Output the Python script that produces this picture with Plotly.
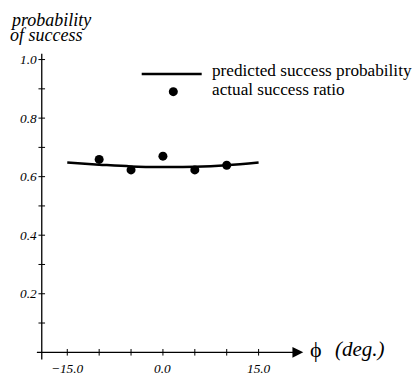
import plotly.graph_objects as go

# ---- data ----
pred_x = [-15, -10, -5, 0, 5, 10, 15]
pred_y = [0.648, 0.641, 0.635, 0.633, 0.634, 0.639, 0.648]
act_x = [-10, -5, 0, 5, 10]
act_y = [0.659, 0.623, 0.670, 0.623, 0.639]

x_major = [-15, 0, 15]
x_major_text = ["\u221215.0", "0.0", "15.0"]
x_minor = [-15, -10, -5, 0, 5, 10, 15]
y_major = [0.2, 0.4, 0.6, 0.8, 1.0]
y_major_text = ["0.2", "0.4", "0.6", "0.8", "1.0"]
y_minor = [0.1, 0.2, 0.3, 0.4, 0.5, 0.6, 0.7, 0.8, 0.9, 1.0]

legend_labels = ["predicted success probability", "actual success ratio"]
y_title = ["probability", "of success"]

SERIF = "Liberation Serif"
Y_AXIS_X = -19

fig = go.Figure()
fig.add_trace(go.Scatter(x=pred_x, y=pred_y, mode="lines",
                         line=dict(color="black", width=2.5, shape="spline"),
                         showlegend=False, hoverinfo="skip"))
fig.add_trace(go.Scatter(x=act_x, y=act_y, mode="markers",
                         marker=dict(color="black", size=9),
                         showlegend=False, hoverinfo="skip"))

shapes = []
# y axis line
shapes.append(dict(type="line", xref="x", yref="y", x0=Y_AXIS_X, x1=Y_AXIS_X,
                   y0=-0.025, y1=1.02, line=dict(color="black", width=1.3)))
# x ticks (cross the axis)
for t in x_minor:
    shapes.append(dict(type="line", xref="x", yref="y", ysizemode="pixel", yanchor=0,
                       x0=t, x1=t, y0=-3.3, y1=3.3, line=dict(color="black", width=1)))
# y ticks
for t in y_minor:
    shapes.append(dict(type="line", xref="x", yref="y", xsizemode="pixel", xanchor=Y_AXIS_X,
                       x0=-3.3, x1=3.3, y0=t, y1=t, line=dict(color="black", width=1)))
# legend decorations
shapes.append(dict(type="line", xref="paper", yref="paper", x0=0.3927, x1=0.6017,
                   y0=0.9006, y1=0.9006, line=dict(color="black", width=2.5)))
shapes.append(dict(type="circle", xref="paper", yref="paper", xsizemode="pixel",
                   ysizemode="pixel", xanchor=0.5028, yanchor=0.8457,
                   x0=-4.5, x1=4.5, y0=-4.5, y1=4.5,
                   fillcolor="black", line=dict(color="black", width=0)))

ann = []
# x axis with arrow
ann.append(dict(x=22, y=0, ax=-20, ay=0, xref="x", yref="y", axref="x", ayref="y",
                text="", showarrow=True, arrowhead=2, arrowsize=1.8, arrowwidth=1.2,
                arrowcolor="black", standoff=0))
for v, t in zip(x_major, x_major_text):
    ann.append(dict(x=v, y=0, xref="x", yref="y", text=t, showarrow=False,
                    xanchor="center", yanchor="top", yshift=-7,
                    font=dict(family=SERIF, size=13.3, style="italic", color="black")))
for v, t in zip(y_major, y_major_text):
    ann.append(dict(x=Y_AXIS_X, y=v, xref="x", yref="y", text=t, showarrow=False,
                    xanchor="right", yanchor="middle", xshift=-2.5,
                    font=dict(family=SERIF, size=13.3, style="italic", color="black")))
# axis titles
ann.append(dict(x=-0.074, y=1.1056, xref="paper", yref="paper",
                text=y_title[0], showarrow=False,
                xanchor="left", yanchor="top",
                font=dict(family=SERIF, size=18, style="italic", color="black")))
ann.append(dict(x=-0.074, y=1.059, xref="paper", yref="paper",
                text=y_title[1], showarrow=False,
                xanchor="left", yanchor="top",
                font=dict(family=SERIF, size=18, style="italic", color="black")))
ann.append(dict(x=22, y=0, xref="x", yref="y", text="\u03d5", showarrow=False,
                xanchor="left", yanchor="middle", xshift=5, yshift=3,
                font=dict(family=SERIF, size=22, color="black")))
ann.append(dict(x=22, y=0, xref="x", yref="y", text="(deg.)", showarrow=False,
                xanchor="left", yanchor="middle", xshift=30, yshift=3,
                font=dict(family=SERIF, size=21, style="italic", color="black")))
# legend text
ann.append(dict(x=0.6307, y=0.913, xref="paper", yref="paper", text=legend_labels[0],
                showarrow=False, xanchor="left", yanchor="middle",
                font=dict(family=SERIF, size=17.2, color="black")))
ann.append(dict(x=0.6307, y=0.851, xref="paper", yref="paper", text=legend_labels[1],
                showarrow=False, xanchor="left", yanchor="middle",
                font=dict(family=SERIF, size=17.2, color="black")))

# the page body has an 8px margin, so the figure is sized/margined to land
# the plot area at the same window position as the reference
fig.update_layout(
    width=412, height=366,
    margin=dict(l=21, r=104, t=34, b=10),
    paper_bgcolor="white", plot_bgcolor="white",
    xaxis=dict(range=[-21, 24], visible=False, fixedrange=True),
    yaxis=dict(range=[-0.04, 1.06], visible=False, fixedrange=True),
    shapes=shapes, annotations=ann, showlegend=False,
)
fig.write_html("out.html")
